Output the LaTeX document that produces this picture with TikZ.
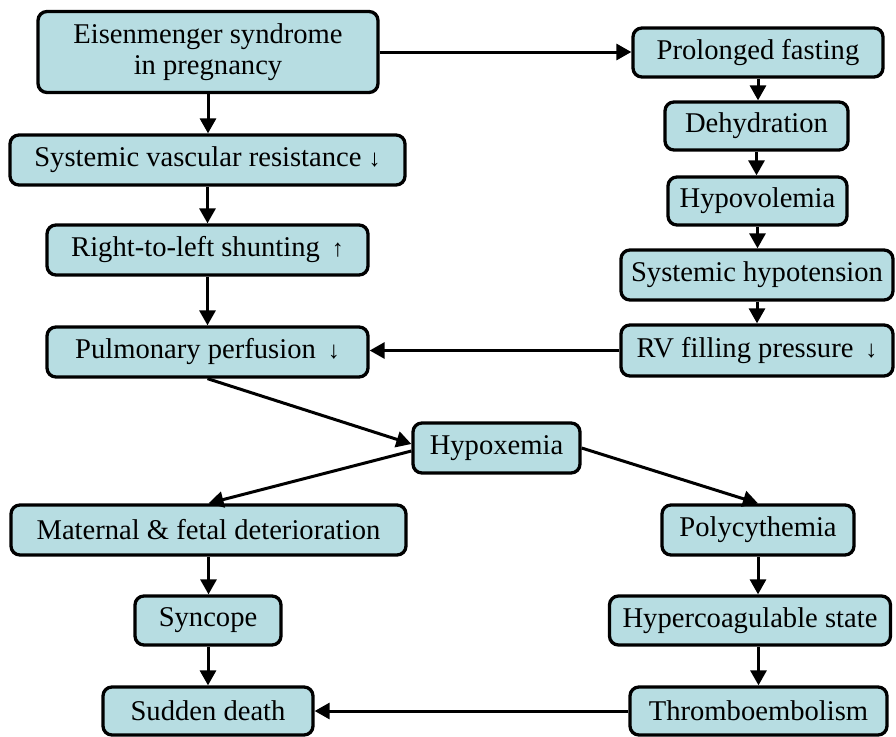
\documentclass[tikz,border=0pt]{standalone}
\usepackage{fontspec}
\setmainfont{Liberation Serif}
\usetikzlibrary{arrows.meta}
\definecolor{boxfill}{RGB}{183,221,226}
\newcommand\arrdn{{\fontsize{24}{31}\selectfont↓}}
\newcommand\arrup{{\fontsize{24}{31}\selectfont↑}}
\tikzset{
  bx/.style={draw=black, line width=3.3pt, fill=boxfill, rounded corners=9pt,
    inner sep=0pt, align=center, font=\fontsize{28.6}{31}\selectfont},
  arr/.style={line width=3pt, -{Triangle[length=15pt,width=16pt]}}
}
\begin{document}
\begin{tikzpicture}[x=1pt,y=-1pt]
\useasboundingbox (0,0) rectangle (896,736);
\node[bx, minimum width=340pt, minimum height=81pt] (A) at (208,52) {Eisenmenger syndrome\\in pregnancy};
\node[bx, minimum width=395pt, minimum height=50pt] (B) at (207.5,160) {Systemic vascular resistance \arrdn};
\node[bx, minimum width=321pt, minimum height=50pt] (C) at (207.5,250) {Right-to-left shunting \,\arrup};
\node[bx, minimum width=321pt, minimum height=50pt] (D) at (207.5,352) {Pulmonary perfusion \,\arrdn};
\node[bx, minimum width=250pt, minimum height=49pt] (E) at (758,52.5) {Prolonged fasting};
\node[bx, minimum width=183pt, minimum height=48pt] (F) at (756.5,126) {Dehydration};
\node[bx, minimum width=179pt, minimum height=48pt] (G) at (757.5,201) {Hypovolemia};
\node[bx, minimum width=272pt, minimum height=50pt] (H) at (757,275) {Systemic hypotension};
\node[bx, minimum width=272pt, minimum height=51pt] (I) at (757,350.5) {RV filling pressure \,\arrdn};
\node[bx, minimum width=167pt, minimum height=50pt] (J) at (496.5,448) {Hypoxemia};
\node[bx, minimum width=395pt, minimum height=50pt] (K) at (208.5,530) {Maternal \& fetal deterioration};
\node[bx, minimum width=192pt, minimum height=50pt] (L) at (758,530) {Polycythemia};
\node[bx, minimum width=146pt, minimum height=49pt] (M) at (208,620.5) {Syncope};
\node[bx, minimum width=281pt, minimum height=49pt] (N) at (750,620.5) {Hypercoagulable state};
\node[bx, minimum width=210pt, minimum height=48pt] (O) at (208,711) {Sudden death};
\node[bx, minimum width=257pt, minimum height=48pt] (P) at (758.5,711) {Thromboembolism};

\draw[arr] (A.south) -- (A.south |- B.north);
\draw[arr] (B.south) -- (B.south |- C.north);
\draw[arr] (C.south) -- (C.south |- D.north);
\draw[arr] (A.east) -- (A.east -| E.west);
\draw[arr] (E.south) -- (E.south |- F.north);
\draw[arr] (F.south) -- (F.south |- G.north);
\draw[arr] (G.south) -- (G.south |- H.north);
\draw[arr] (H.south) -- (H.south |- I.north);
\draw[arr] (I.west) -- (I.west -| D.east);
\draw[arr] (D.south) -- ([yshift=4pt]J.west);
\draw[arr] ([yshift=-3pt]J.west) -- (K.north);
\draw[arr] (J.east) -- (L.north);
\draw[arr] (K.south) -- (K.south |- M.north);
\draw[arr] (M.south) -- (M.south |- O.north);
\draw[arr] (L.south) -- (L.south |- N.north);
\draw[arr] (P.north |- N.south) -- (P.north);
\draw[arr] (P.west) -- (P.west -| O.east);
\end{tikzpicture}
\end{document}
